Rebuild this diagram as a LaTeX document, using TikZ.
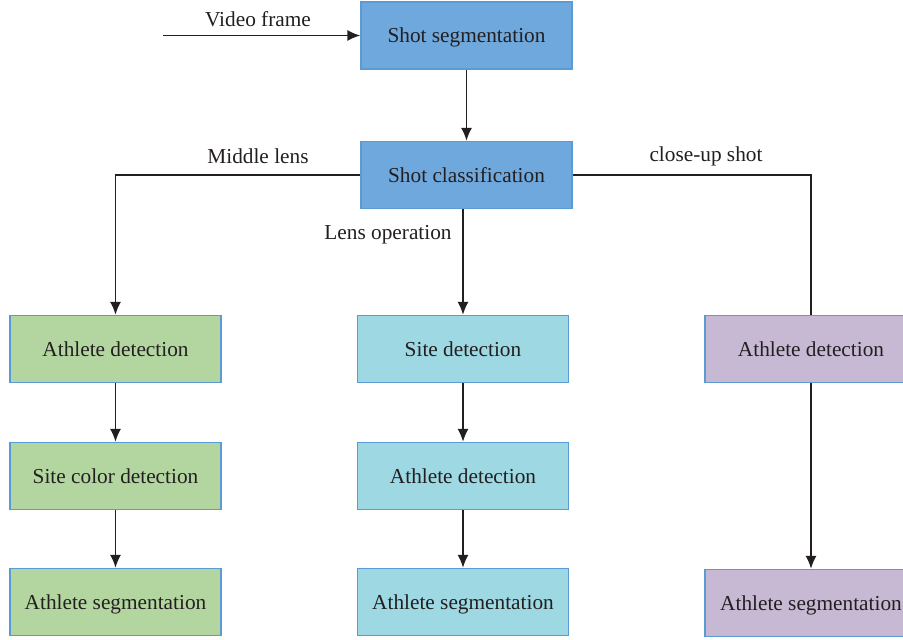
\documentclass[tikz,border=0pt]{standalone}
\usepackage{fontspec}
\setmainfont{Liberation Serif}
\usetikzlibrary{arrows.meta}
\definecolor{txt}{HTML}{231F20}
\definecolor{bluefill}{HTML}{6FA8DC}
\definecolor{greenfill}{HTML}{B3D6A0}
\definecolor{cyanfill}{HTML}{9DD8E3}
\definecolor{purplefill}{HTML}{C7B9D4}
\definecolor{edge}{HTML}{5B9BD5}
\begin{document}
\begin{tikzpicture}[x=1pt,y=-1pt,
  box/.style={draw=edge,line width=1.2pt,minimum width=211pt,minimum height=67pt,inner sep=0pt,
    font=\fontsize{21.3}{25}\selectfont,text=txt,text depth=0pt},
  lbl/.style={font=\fontsize{21.3}{25}\selectfont,text=txt,inner sep=0pt},
  conn/.style={line width=1.8pt,color=txt},
  arr/.style={conn,-{Latex[length=13pt,width=11pt]}}]
\clip (0,0) rectangle (903,640);
\fill[white] (0,0) rectangle (903,640);
% top
\node[box,fill=bluefill] (seg) at (466.5,35.5) {Shot segmentation};
\node[box,fill=bluefill] (cls) at (466.5,175) {Shot classification};
% left column
\node[box,fill=greenfill] (l1) at (115.5,349) {Athlete detection};
\node[box,fill=greenfill] (l2) at (115.5,476) {Site color detection};
\node[box,fill=greenfill] (l3) at (115.5,602) {Athlete segmentation};
% middle column
\node[box,fill=cyanfill] (m1) at (463,349) {Site detection};
\node[box,fill=cyanfill] (m2) at (463,476) {Athlete detection};
\node[box,fill=cyanfill] (m3) at (463,602) {Athlete segmentation};
% right column
\node[box,fill=purplefill,minimum width=212pt] (r1) at (811,349) {Athlete detection};
\node[box,fill=purplefill,minimum width=212pt] (r3) at (811,603) {Athlete segmentation};
% input
\coordinate (in) at (163,35.5);
\draw[arr] (in) -- (seg.west);
\node[lbl] (vf) at (258,19) {Video frame};
% seg -> cls
\draw[arr] (seg.south) -- (cls.north);
% branches
\draw[arr] (cls.west) -| (l1.north);
\node[lbl] (ml) at (258,156) {Middle lens};
\draw[arr] (cls.south -| m1.north) -- (m1.north);
\node[lbl] (lo) at (388,235) {Lens operation};
\draw[conn] (cls.east) -| (r1.north);
\node[lbl] (cu) at (706,156) {close-up shot};
% columns
\draw[arr] (l1) -- (l2);
\draw[arr] (l2) -- (l3);
\draw[arr] (m1) -- (m2);
\draw[arr] (m2) -- (m3);
\draw[arr] (r1) -- (r3);
\end{tikzpicture}
\end{document}
